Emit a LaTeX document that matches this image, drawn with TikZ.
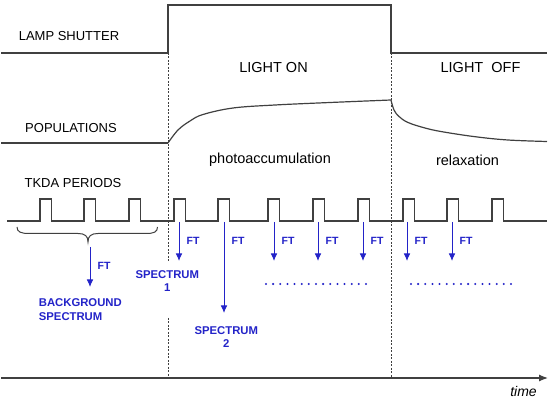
\documentclass[tikz,border=0pt]{standalone}
\usepackage{fontspec}
\setmainfont{Liberation Sans}
\usetikzlibrary{arrows.meta}
\definecolor{ln}{RGB}{64,64,64}
\definecolor{bl}{RGB}{35,35,200}
\begin{document}
\begin{tikzpicture}[x=1pt,y=-1pt,
  sig/.style={draw=ln, line width=1.2pt, line join=miter},
  guide/.style={draw=ln, line width=0.8pt, dash pattern=on 2pt off 1.5pt},
  lbl/.style={font=\fontsize{13}{15}\selectfont, anchor=base, inner sep=0pt},
  big/.style={font=\fontsize{14.5}{17}\selectfont, anchor=base, inner sep=0pt},
  ftlbl/.style={font=\fontsize{10.5}{12}\selectfont\bfseries, text=bl, anchor=base west, inner sep=0pt},
  spec/.style={font=\fontsize{11.3}{13.5}\selectfont\bfseries, text=bl, align=center, inner sep=0pt},
  ftarrow/.style={draw=bl, line width=0.9pt, -{Latex[length=7.5pt,width=6.5pt]}},
  dotmark/.style={fill=bl},
]
\useasboundingbox (0,0) rectangle (550,401);

% ---- lamp shutter signal
\coordinate (s0) at (1,53);
\coordinate (s1) at (168,53);
\coordinate (s2) at (168,5);
\coordinate (s3) at (391,5);
\coordinate (s4) at (391,53);
\coordinate (s5) at (547,53);
\draw[sig] (s0) -- (s1) -- (s2) -- (s3) -- (s4) -- (s5);

% ---- dashed time marks
\coordinate (d1a) at (168,53);
\coordinate (d1b) at (168,262);
\coordinate (d1c) at (168,318);
\coordinate (d1d) at (168,378);
\coordinate (d2a) at (391,53);
\coordinate (d2b) at (391,378);
\draw[guide] (d1a) -- (d1b);
\draw[guide] (d1c) -- (d1d);
\draw[guide] (d2a) -- (d2b);

% ---- populations
\coordinate (q0) at (1,143);
\coordinate (q1) at (168,143);
\coordinate (q2) at (391,100);
\coordinate (q3) at (547,141.5);
\draw[sig] (q0) -- (q1);
\draw[sig] plot[smooth, tension=0.6] coordinates {(168,143) (178,130) (190,121) (203,114.5) (233,108) (275,105) (330,102.5) (391,100)};
\draw[sig] plot[smooth, tension=0.6] coordinates {(391,100) (394,110) (399,116.5) (408,122.5) (425,128) (442,131.7) (475,136.7) (508,140) (547,141.5)};

% ---- labels
\node[lbl] (lamp) at (69,40.7) {LAMP SHUTTER};
\node[lbl] (pop) at (71,133) {POPULATIONS};
\node[lbl] (tkda) at (73,188) {TKDA PERIODS};
\node[big] (on) at (273.5,72.3) {LIGHT ON};
\node[big] (off) at (480.5,73) {LIGHT\ \ OFF};
\node[big] (photo) at (270,163.3) {photoaccumulation};
\node[big] (relax) at (467.5,165.5) {relaxation};

% ---- TKDA pulse train
\draw[sig] (7,221)
  \foreach \s in {40,84,129,174,218,268,313,358,403,447,492} {
    -- (\s,221) -- (\s,199) -- ({\s+11.5},199) -- ({\s+11.5},221)
  } -- (547,221);

% ---- brace
\coordinate (brL) at (17,227);
\coordinate (brT) at (88,242);
\coordinate (brR) at (157.5,227);
\draw[draw=ln, line width=1pt] (brL) .. controls (17,232) and (21,233.5) .. (29,233.5)
  -- (78,233.5) .. controls (85,233.5) and (88,236) .. (brT)
  .. controls (88,236) and (91,233.5) .. (98,233.5)
  -- (146,233.5) .. controls (154,233.5) and (157.5,232) .. (brR);

% ---- FT arrows
\coordinate (b0) at (90,247);
\coordinate (b1) at (90,287);
\draw[ftarrow] (b0) -- (b1);
\node[ftlbl] (ftb) at (97.5,270) {FT};

\foreach \x/\e/\n in {179/261/1,224/313/2,274/261/3,318/261/4,363/261/5,407/261/6,452/261/7} {
  \coordinate (p\n) at (\x,222);
  \coordinate (e\n) at (\x,\e);
  \draw[ftarrow] (p\n) -- (e\n);
  \node[ftlbl] (ft\n) at ({\x+7.5},244.5) {FT};
}

% ---- spectrum labels
\node[spec, anchor=north] (sp1) at (167.3,270) {SPECTRUM\\1};
\node[spec, anchor=north] (sp2) at (226.3,326) {SPECTRUM\\2};
\node[spec, anchor=north west, align=left] (bg) at (38.7,298.5) {BACKGROUND\\SPECTRUM};

% ---- dotted continuation marks
\foreach \i in {0,...,14} {
  \fill[dotmark] ({266+\i*7.14},284) circle (1.15pt);
  \fill[dotmark] ({411+\i*7.14},284) circle (1.15pt);
}

% ---- time axis
\coordinate (t0) at (1,378);
\coordinate (t1) at (548,378);
\draw[draw=ln, line width=1.2pt, -{Latex[length=9pt,width=7pt]}] (t0) -- (t1);
\node[font=\fontsize{14}{16}\selectfont\itshape, anchor=base, inner sep=0pt] (time) at (523.5,396.5) {time};
\end{tikzpicture}
\end{document}
